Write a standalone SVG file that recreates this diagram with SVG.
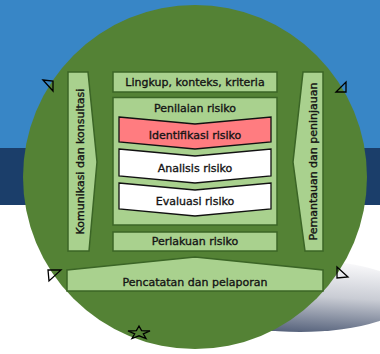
<svg xmlns="http://www.w3.org/2000/svg" width="380" height="354" viewBox="0 0 380 354">
  <defs>
    <linearGradient id="shadowGrad" x1="0.4" y1="0" x2="0.2" y2="1">
      <stop offset="0" stop-color="#f7f7f9"/>
      <stop offset="0.45" stop-color="#c9ccd4"/>
      <stop offset="1" stop-color="#4b5873"/>
    </linearGradient>
    <style>
      .lbl { font-family: "DejaVu Sans", "Liberation Sans", sans-serif; font-size: 11px; fill: #141414; stroke: #141414; stroke-width: 0.35; text-anchor: middle; dominant-baseline: central; }
      .box { fill: #a9d18e; stroke: #3b6526; stroke-width: 1.5; }
      .chev { stroke: #111111; stroke-width: 1.3; stroke-linejoin: miter; }
      .mark { fill: none; stroke: #000000; stroke-width: 1.3; stroke-linejoin: miter; }
    </style>
  </defs>

  <!-- backdrop bands -->
  <rect x="0" y="0" width="380" height="354" fill="#ffffff"/>
  <rect x="0" y="0" width="380" height="148" fill="#3886c6"/>
  <rect x="0" y="148" width="380" height="57" fill="#1b3e6a"/>

  <!-- soft floor shadow under the disc -->
  <ellipse cx="300" cy="296" rx="110" ry="36" fill="url(#shadowGrad)"/>

  <!-- green disc -->
  <circle cx="195" cy="177" r="172" fill="#548235"/>

  <!-- corner marks -->
  <g id="marks">
    <polygon class="mark" points="43,80 53,81 53,91"/>
    <polygon class="mark" points="336,92 346,82 346,92"/>
    <polygon class="mark" points="48,270 61,270 49,281"/>
    <polygon class="mark" points="337,267 337,278 348,277"/>
    <polygon class="mark" points="139,326 141.6,330.6 150,331 143.3,333.8 146,338.5 139,335.8 132,338.5 134.7,333.8 128,331 136.4,330.6"/>
  </g>

  <g id="connectors"></g>

  <g id="komunikasi">
    <polygon class="box" points="68,72 88,72 97,162 89,251 68,251"/>
    <text class="lbl" transform="translate(80.5,161.5) rotate(-90)">Komunikasi dan konsultasi</text>
  </g>

  <g id="pemantauan">
    <polygon class="box" points="303,72 323,72 323,251 305,251 293,162"/>
    <text class="lbl" transform="translate(313.5,161.5) rotate(-90)">Pemantauan dan peninjauan</text>
  </g>

  <g id="lingkup">
    <rect class="box" x="113" y="72" width="164" height="20"/>
    <text class="lbl" x="195" y="82.5">Lingkup, konteks, kriteria</text>
  </g>

  <g id="penilaian">
    <rect class="box" x="113" y="97.5" width="164" height="127.5"/>
    <text class="lbl" x="195" y="108">Penilaian risiko</text>
  </g>

  <g id="identifikasi">
    <polygon class="chev" fill="#ff7c80" points="119,117 195,124 271,117 271,142 195,149 119,142"/>
    <text class="lbl" x="195" y="135.5">Identifikasi risiko</text>
  </g>

  <g id="analisis">
    <polygon class="chev" fill="#ffffff" points="119,149 195,156 271,149 271,176 195,183 119,176"/>
    <text class="lbl" x="195" y="168.5">Analisis risiko</text>
  </g>

  <g id="evaluasi">
    <polygon class="chev" fill="#ffffff" points="119,183 195,190 271,183 271,209 195,216 119,209"/>
    <text class="lbl" x="195" y="201.5">Evaluasi risiko</text>
  </g>

  <g id="perlakuan">
    <rect class="box" x="113" y="232" width="164" height="19"/>
    <text class="lbl" x="195" y="241.5">Perlakuan risiko</text>
  </g>

  <g id="pencatatan">
    <polygon class="box" points="67,270 195,257 323,270 323,291 67,291"/>
    <text class="lbl" x="195" y="282">Pencatatan dan pelaporan</text>
  </g>
</svg>
